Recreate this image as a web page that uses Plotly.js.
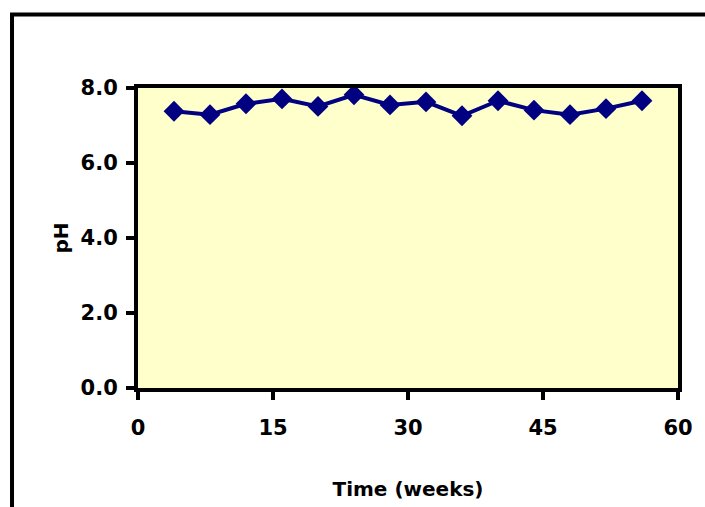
<!DOCTYPE html>
<html>
<head>
<meta charset="utf-8">
<script src="https://cdn.plot.ly/plotly-3.0.1.min.js"></script>
<style>
  html, body { margin: 0; padding: 0; background: #ffffff; }
  #chart { width: 705px; height: 507px; }
</style>
</head>
<body>
<div id="chart"></div>
<script>
// Sampling times (weeks) and measured pH
const weeks = [4, 8, 12, 16, 20, 24, 28, 32, 36, 40, 44, 48, 52, 56];
const phValues = [7.38, 7.29, 7.58, 7.71, 7.51, 7.82, 7.55, 7.63, 7.26, 7.66, 7.41, 7.29, 7.45, 7.66];
const xTicks = [0, 15, 30, 45, 60];
const yTicks = [0, 2, 4, 6, 8];
const yTickText = ['0.0', '2.0', '4.0', '6.0', '8.0'];

const fam = 'DejaVu Sans, Verdana, sans-serif';
const boldFont = { family: fam, size: 21, color: '#000000', weight: 'bold' };

const trace = {
  x: weeks,
  y: phValues,
  type: 'scatter',
  mode: 'lines+markers',
  line: { color: '#000080', width: 4 },
  marker: { symbol: 'diamond', size: 16, color: '#000080' },
  cliponaxis: false,
  hoverinfo: 'x+y'
};

const layout = {
  width: 705,
  height: 507,
  margin: { l: 138, r: 27, t: 88, b: 119 },
  paper_bgcolor: '#ffffff',
  plot_bgcolor: '#FFFFCC',
  showlegend: false,
  font: { family: fam, size: 21, color: '#000000' },
  xaxis: {
    range: [0, 60],
    tickvals: xTicks,
    ticktext: xTicks.map(String),
    ticks: 'outside',
    ticklen: 8,
    tickwidth: 4,
    tickcolor: '#000000',
    ticklabelstandoff: 10,
    showline: true,
    linewidth: 4,
    linecolor: '#000000',
    mirror: true,
    showgrid: false,
    zeroline: false,
    tickfont: boldFont,
    title: {
      text: '<b>Time (weeks)</b>',
      font: { family: fam, size: 20, color: '#000000' },
      standoff: 44
    }
  },
  yaxis: {
    range: [0, 8],
    tickvals: yTicks,
    ticktext: yTickText,
    ticks: 'outside',
    ticklen: 8,
    tickwidth: 4,
    tickcolor: '#000000',
    ticklabelstandoff: 4,
    showline: true,
    linewidth: 4,
    linecolor: '#000000',
    mirror: true,
    showgrid: false,
    zeroline: false,
    tickfont: boldFont,
    title: {
      text: '<b>pH</b>',
      font: { family: fam, size: 20, color: '#000000' },
      standoff: 8
    }
  },
  shapes: [
    {
      // outer chart frame
      type: 'rect',
      xref: 'paper', yref: 'paper',
      x0: -0.2333, x1: 1.2,
      y0: -0.6, y1: 1.245,
      line: { color: '#000000', width: 4 },
      fillcolor: 'rgba(0,0,0,0)',
      layer: 'below'
    }
  ]
};

Plotly.newPlot('chart', [trace], layout, { displayModeBar: false, staticPlot: true });
</script>
</body>
</html>
